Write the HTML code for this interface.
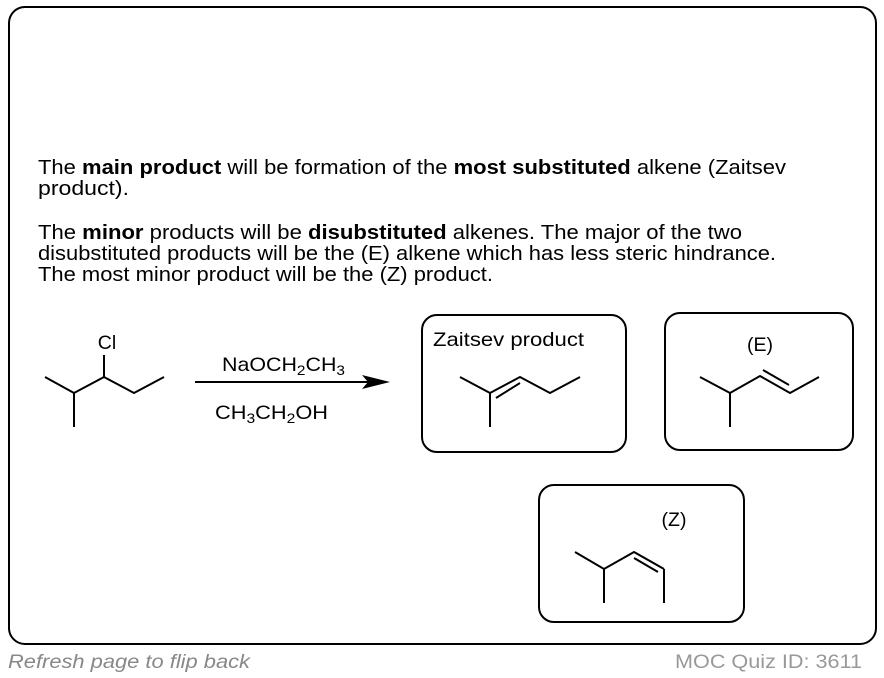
<!DOCTYPE html>
<html><head><style>
body{margin:0;background:#fff;width:884px;height:678px;overflow:hidden}
svg{display:block}
text{font-family:"Liberation Sans",Arial,sans-serif;fill:#000}
</style></head><body>
<svg width="884" height="678" viewBox="0 0 884 678" xmlns="http://www.w3.org/2000/svg">
<rect x="9" y="7" width="867" height="637" rx="16" fill="#fff" stroke="#000" stroke-width="2"/>
<g font-size="20.5">
<text x="38" y="174" textLength="748" lengthAdjust="spacingAndGlyphs">The <tspan font-weight="bold">main product</tspan> will be formation of the <tspan font-weight="bold">most substituted</tspan> alkene (Zaitsev</text>
<text x="38" y="195" textLength="91" lengthAdjust="spacingAndGlyphs">product).</text>
<text x="38" y="239" textLength="704" lengthAdjust="spacingAndGlyphs">The <tspan font-weight="bold">minor</tspan> products will be <tspan font-weight="bold">disubstituted</tspan> alkenes. The major of the two</text>
<text x="38" y="260" textLength="738" lengthAdjust="spacingAndGlyphs">disubstituted products will be the (E) alkene which has less steric hindrance.</text>
<text x="38" y="281" textLength="455" lengthAdjust="spacingAndGlyphs">The most minor product will be the (Z) product.</text>
</g>
<g stroke="#000" stroke-width="2" fill="none" stroke-linejoin="miter">
<polyline points="45,377 74,393 104,377 134,393 164,377"/>
<line x1="74" y1="393" x2="74" y2="427"/>
<line x1="104" y1="377" x2="104" y2="355"/>
<line x1="195" y1="382" x2="370" y2="382"/>
<rect x="422" y="315" width="204" height="137" rx="15"/>
<rect x="665" y="313" width="188" height="137" rx="15"/>
<rect x="539" y="485" width="205" height="137" rx="15"/>
<polyline points="460,377 490,393 520,377 550,393 580,377"/>
<line x1="490" y1="393" x2="490" y2="427"/>
<line x1="496" y1="398" x2="520" y2="383"/>
<polyline points="700,377 730,393 760,376 790,393 819,377"/>
<line x1="730" y1="393" x2="730" y2="427"/>
<line x1="763" y1="370" x2="789" y2="385"/>
<polyline points="575,552 604,569 634,552 664,569"/>
<line x1="604" y1="569" x2="604" y2="603"/>
<line x1="664" y1="569" x2="664" y2="603"/>
<line x1="634" y1="558" x2="658" y2="572"/>
</g>
<polygon points="390,382 362,375 368,382 362,389" fill="#000"/>
<g font-size="19.5">
<text x="107" y="349" text-anchor="middle">Cl</text>
<text x="222" y="371" textLength="123" lengthAdjust="spacingAndGlyphs">NaOCH<tspan font-size="14" dy="4">2</tspan><tspan dy="-4">CH</tspan><tspan font-size="14" dy="4">3</tspan></text>
<text x="215" y="419" textLength="113" lengthAdjust="spacingAndGlyphs">CH<tspan font-size="14" dy="4">3</tspan><tspan dy="-4">CH</tspan><tspan font-size="14" dy="4">2</tspan><tspan dy="-4">OH</tspan></text>
<text x="433" y="346" textLength="151" lengthAdjust="spacingAndGlyphs">Zaitsev product</text>
<text x="760" y="351" text-anchor="middle">(E)</text>
<text x="674" y="526" text-anchor="middle">(Z)</text>
</g>
<text x="8" y="668" font-size="19" font-style="italic" style="fill:#888" textLength="242" lengthAdjust="spacingAndGlyphs">Refresh page to flip back</text>
<text x="675" y="668" font-size="19" style="fill:#999" textLength="187" lengthAdjust="spacingAndGlyphs">MOC Quiz ID: 3611</text>
</svg>
</body></html>
